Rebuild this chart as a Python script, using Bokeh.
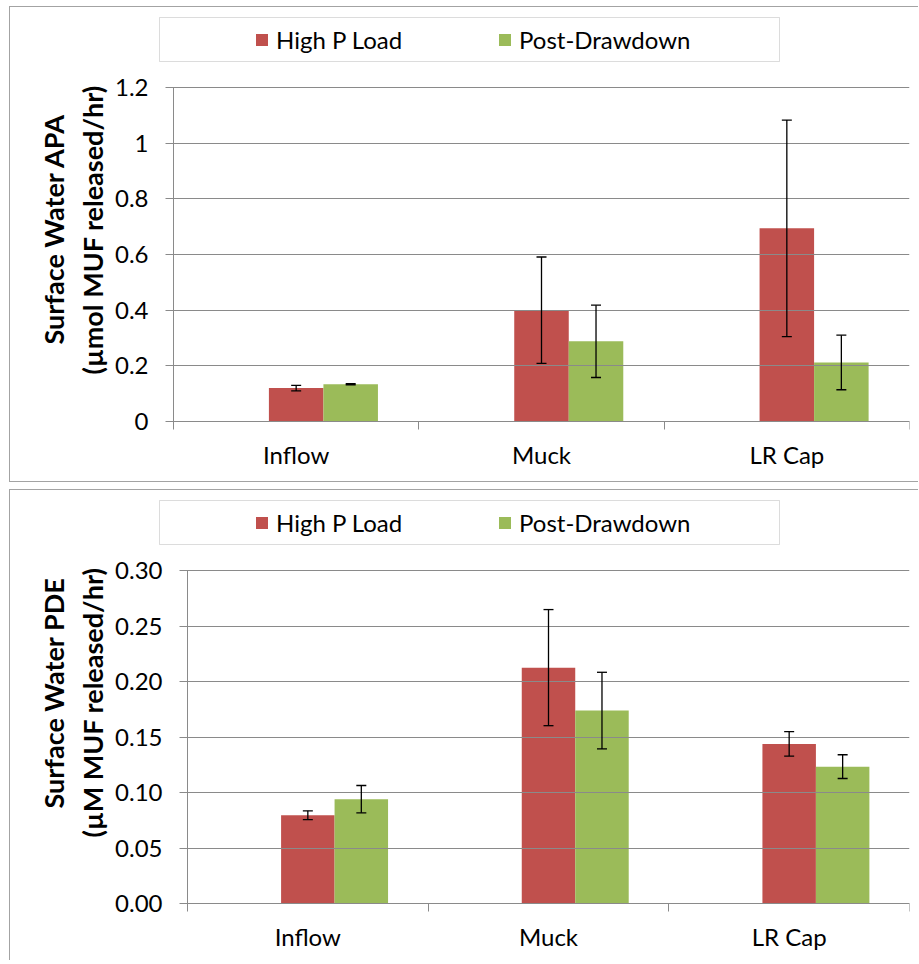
from bokeh.plotting import figure
from bokeh.models import (Range1d, FixedTicker, NumeralTickFormatter, ColumnDataSource,
                          Whisker, TeeHead, Legend, LegendItem, BoxAnnotation, Title)
from bokeh.embed import file_html
from bokeh.resources import INLINE

# ---- data -------------------------------------------------------------
categories = ["Inflow", "Muck", "LR Cap"]
series_names = ["High P Load", "Post-Drawdown"]

apa_high = [0.120, 0.400, 0.694]
apa_high_err = [0.010, 0.191, 0.389]
apa_post = [0.134, 0.288, 0.212]
apa_post_err = [0.002, 0.130, 0.098]
apa_ticks = [0, 0.2, 0.4, 0.6, 0.8, 1.0, 1.2]

pde_high = [0.0795, 0.2125, 0.1438]
pde_high_err = [0.0040, 0.0523, 0.0110]
pde_post = [0.0940, 0.1738, 0.1233]
pde_post_err = [0.0123, 0.0345, 0.0107]
pde_ticks = [0, 0.05, 0.10, 0.15, 0.20, 0.25, 0.30]

# ---- style ------------------------------------------------------------
RED = "#C0504D"
GREEN = "#9BBB59"
GRID = "#8a8a8a"
FONT = "Lato"
SLOT = 1 / 4.5          # three bar slots + 150 % gap per category
BORDER = "1px solid #a3a3a3"
CANVAS_W = 909
FRAME_LEFT = 100        # frame reaches past the value-axis labels and the legend box
RIGHT_PAD = 10
EDGE = 5                # frame inset at top and bottom of each canvas


def make_panel(high, high_err, post, post_err, ticks, fmt, ylabel_lines,
               axis_x, zero_y, height, value_px, border_css, margin,
               legend_dy, title_offsets, title_standoffs):
    ymax = ticks[-1]
    n = len(categories)
    plot_px = CANVAS_W - RIGHT_PAD - axis_x           # width of the category area
    x_start = -(axis_x - FRAME_LEFT) * n / plot_px    # value axis sits at x = 0
    below_px = height - EDGE - zero_y                 # room under the zero line
    above_px = zero_y - EDGE                          # room over the zero line

    p = figure(width=CANVAS_W, height=height, output_backend="svg", toolbar_location=None,
               x_range=Range1d(x_start, n),
               y_range=Range1d(-ymax * below_px / value_px, ymax * above_px / value_px),
               min_border_left=FRAME_LEFT, min_border_right=RIGHT_PAD,
               min_border_top=EDGE, min_border_bottom=EDGE, margin=margin)
    p.styles = border_css
    p.outline_line_color = None
    p.background_fill_color = "white"
    p.border_fill_color = "white"
    p.xgrid.grid_line_color = None
    p.ygrid.grid_line_color = None

    centers = [i + 0.5 for i in range(n)]
    src = ColumnDataSource(dict(
        xh=centers, xp=[c + SLOT for c in centers],
        high=high, post=post,
        hu=[v + e for v, e in zip(high, high_err)], hl=[v - e for v, e in zip(high, high_err)],
        pu=[v + e for v, e in zip(post, post_err)], pl=[v - e for v, e in zip(post, post_err)],
    ))
    r1 = p.vbar(x="xh", top="high", bottom=0, width=SLOT, source=src,
                fill_color=RED, line_color=None)
    r2 = p.vbar(x="xp", top="post", bottom=0, width=SLOT, source=src,
                fill_color=GREEN, line_color=None)

    for base, up, lo in (("xh", "hu", "hl"), ("xp", "pu", "pl")):
        w = Whisker(base=base, upper=up, lower=lo, source=src, dimension="height",
                    line_color="black", line_width=1.3, level="annotation",
                    upper_head=TeeHead(size=10, line_color="black", line_width=1.3),
                    lower_head=TeeHead(size=10, line_color="black", line_width=1.3))
        p.add_layout(w)

    # category axis on the zero line: labels at centres, tick marks at the boundaries
    xa = p.xaxis[0]
    xa.fixed_location = 0
    xa.bounds = (0, n)
    xa.ticker = FixedTicker(ticks=centers, minor_ticks=list(range(n + 1)))
    xa.major_label_overrides = {c: name for c, name in zip(centers, categories)}
    xa.major_tick_line_color = None
    xa.major_tick_out = 0
    xa.major_tick_in = 0
    xa.minor_tick_line_color = GRID
    xa.minor_tick_out = 8
    xa.minor_tick_in = 0
    xa.axis_line_color = GRID
    xa.major_label_standoff = 10
    xa.major_label_text_font = FONT
    xa.major_label_text_font_size = "24px"
    xa.major_label_text_color = "black"

    # value axis at x = 0; its inward ticks run across the plot as gridlines
    ya = p.yaxis[0]
    ya.fixed_location = 0
    ya.bounds = (0, ymax)
    ya.ticker = FixedTicker(ticks=ticks)
    ya.formatter = NumeralTickFormatter(format=fmt)
    ya.minor_tick_line_color = None
    ya.major_tick_line_color = GRID
    ya.major_tick_out = 8
    ya.major_tick_in = plot_px
    ya.axis_line_color = GRID
    ya.major_label_standoff = 17
    ya.major_label_text_font = FONT
    ya.major_label_text_font_size = "24px"
    ya.major_label_text_color = "black"

    # legend box and entries (screen offsets from the frame's lower-left corner)
    dy = below_px + legend_dy
    box = BoxAnnotation(left=149 - FRAME_LEFT, right=769 - FRAME_LEFT,
                        top=dy + 44, bottom=dy,
                        left_units="screen", right_units="screen",
                        top_units="screen", bottom_units="screen",
                        fill_alpha=0, line_color="#8c8c8c", line_width=1, level="overlay")
    p.add_layout(box)

    legend = Legend(items=[LegendItem(label=series_names[0], renderers=[r1]),
                           LegendItem(label=series_names[1], renderers=[r2])],
                    orientation="horizontal", location=(244 - FRAME_LEFT, dy + 7),
                    padding=0, spacing=0, margin=0, glyph_width=15, glyph_height=15,
                    label_standoff=7, label_width=221,
                    label_text_font=FONT, label_text_font_size="24px",
                    label_text_color="black",
                    border_line_color=None, background_fill_alpha=0)
    p.add_layout(legend, "center")

    # two-line value-axis title, inner line first
    for text, off, standoff in zip(reversed(ylabel_lines), title_offsets, title_standoffs):
        p.add_layout(Title(text=text, align="left", offset=below_px + off,
                           standoff=standoff, text_font=FONT, text_font_style="bold",
                           text_font_size="27px", text_color="black"), "left")
    return p


top = make_panel(apa_high, apa_high_err, apa_post, apa_post_err, apa_ticks, "0.[0]",
                 ["Surface Water APA", "(\u00b5mol MUF released/hr)"],
                 axis_x=163, zero_y=414, height=476, value_px=334,
                 border_css={"border-top": BORDER, "border-left": BORDER,
                             "border-bottom": BORDER},
                 margin=(6, 0, 0, 9), legend_dy=360,
                 title_offsets=(47, 77), title_standoffs=(4, 4))

bottom = make_panel(pde_high, pde_high_err, pde_post, pde_post_err, pde_ticks, "0.00",
                    ["Surface Water PDE", "(\u00b5M MUF released/hr)"],
                    axis_x=177, zero_y=413, height=471, value_px=333,
                    border_css={"border-top": BORDER, "border-left": BORDER},
                    margin=(7, 0, 0, 9), legend_dy=359,
                    title_offsets=(66, 95), title_standoffs=(4, 4))

open("out.html", "w").write(file_html([top, bottom], INLINE))
